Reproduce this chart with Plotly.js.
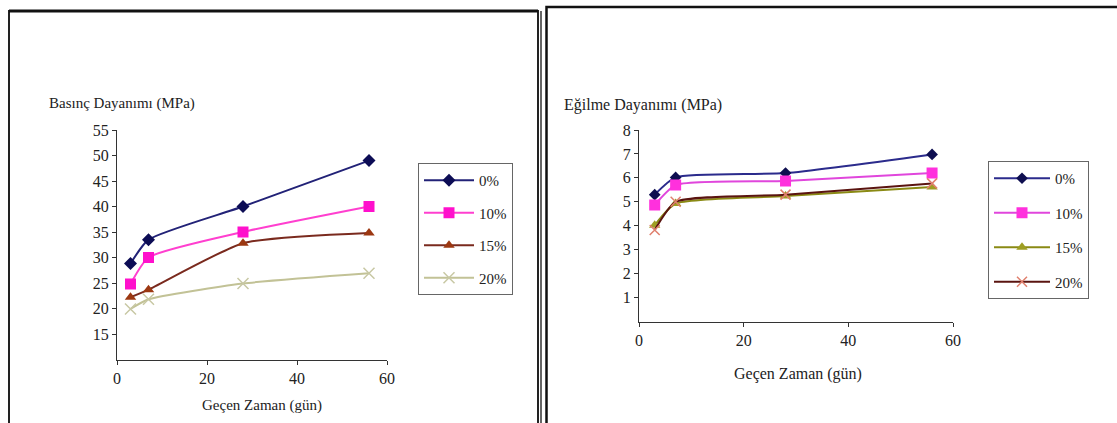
<!DOCTYPE html>
<html>
<head>
<meta charset="utf-8">
<script src="https://cdn.plot.ly/plotly-3.0.1.min.js"></script>
<style>
html,body{margin:0;padding:0;background:#fff;font-family:'Liberation Serif',serif;}
#chart{width:1117px;height:423px;}
</style>
</head>
<body>
<div id="chart"></div>
<script>
// ---- data ----
const days = [3, 7, 28, 56];
const seriesNames = ["0%", "10%", "15%", "20%"];
const compressive0 = [28.8, 33.5, 40.0, 49.0];
const compressive10 = [24.8, 30.0, 35.0, 40.0];
const compressive15 = [22.2, 23.7, 32.8, 34.8];
const compressive20 = [19.9, 21.8, 24.9, 26.9];
const flexural0 = [5.3, 6.02, 6.2, 6.98];
const flexural10 = [4.87, 5.7, 5.87, 6.2];
const flexural15 = [4.02, 4.93, 5.24, 5.62];
const flexural20 = [3.82, 5.0, 5.3, 5.77];
const leftYTicks = [15, 20, 25, 30, 35, 40, 45, 50, 55];
const rightYTicks = [1, 2, 3, 4, 5, 6, 7, 8];
const xTicks = [0, 20, 40, 60];
const leftYTitle = "Basınç Dayanımı (MPa)";
const rightYTitle = "Eğilme Dayanımı (MPa)";
const xTitle = "Geçen Zaman (gün)";

// ---- layout helpers ----
const W = 1117, H = 423;
const toPX = v => v / W;
const toPY = v => 1 - v / H;
const SERIF = "Liberation Serif";

const leftStyles = [
  {line: "#222277", marker: "#0c0c55", symbol: "diamond", size: 10},
  {line: "#ff3fcf", marker: "#ff10cc", symbol: "square", size: 11},
  {line: "#7a2a1e", marker: "#9c3812", symbol: "triangle-up", size: 10},
  {line: "#c2c296", marker: "#c8c8a4", symbol: "x-thin-open", size: 11}
];
const rightStyles = [
  {line: "#2b2b8c", marker: "#0e0e50", symbol: "diamond", size: 9},
  {line: "#e046dc", marker: "#ff30dd", symbol: "square", size: 11},
  {line: "#8a8a14", marker: "#9e9e22", symbol: "triangle-up", size: 10},
  {line: "#5a1410", marker: "#e0806e", symbol: "x-thin-open", size: 10}
];

function mk(y, i, st, xa, ya, leg, grp) {
  return {
    x: days, y: y, name: seriesNames[i], type: "scatter", mode: "lines+markers",
    xaxis: xa, yaxis: ya, legend: leg, legendgroup: grp + i,
    line: {color: st.line, width: 2, shape: "spline", smoothing: 0.55},
    marker: {color: st.marker, symbol: st.symbol, size: st.size,
             line: {color: st.marker, width: st.symbol === "x-thin-open" ? 1.5 : 0}}
  };
}
const leftData = [compressive0, compressive10, compressive15, compressive20];
const rightData = [flexural0, flexural10, flexural15, flexural20];
const traces = [];
leftData.forEach((y, i) => traces.push(mk(y, i, leftStyles[i], "x", "y", "legend", "L")));
rightData.forEach((y, i) => traces.push(mk(y, i, rightStyles[i], "x2", "y2", "legend2", "R")));

function axis(extra, size) {
  return Object.assign({
    showgrid: false, zeroline: false, showline: true, linecolor: "#333", linewidth: 1,
    ticks: "outside", ticklen: 4, tickcolor: "#333", tickwidth: 1,
    tickfont: {family: SERIF, size: size, color: "#222"}, fixedrange: true
  }, extra);
}

function legendCfg(x, y, gap, iw) {
  return {
    x: x, y: y, orientation: "v", xanchor: "left", yanchor: "top",
    bgcolor: "#ffffff", bordercolor: "#666", borderwidth: 1,
    font: {family: SERIF, size: 15, color: "#222"},
    traceorder: "grouped", tracegroupgap: gap, itemwidth: iw
  };
}

const layout = {
  width: W, height: H, margin: {l: 0, r: 0, t: 0, b: 0},
  paper_bgcolor: "#fff", plot_bgcolor: "#fff", showlegend: true,
  font: {family: SERIF, color: "#222"},
  xaxis: axis({domain: [toPX(117), toPX(387)], range: [0, 60], tickvals: xTicks, anchor: "y"}, 16),
  yaxis: axis({domain: [toPY(359.5), toPY(130)], range: [10, 55], tickvals: leftYTicks, anchor: "x"}, 16),
  xaxis2: axis({domain: [toPX(639), toPX(953)], range: [0, 60], tickvals: xTicks, anchor: "y2"}, 16),
  yaxis2: axis({domain: [toPY(321.5), toPY(130)], range: [0, 8], tickvals: rightYTicks, anchor: "x2"}, 16),
  legend: legendCfg(toPX(418), toPY(163), 10, 50),
  legend2: legendCfg(toPX(988), toPY(161), 12, 56),
  annotations: [
    {text: leftYTitle, xref: "paper", yref: "paper", x: toPX(47), y: toPY(103), xanchor: "left", yanchor: "middle",
     showarrow: false, font: {family: SERIF, size: 15}},
    {text: rightYTitle, xref: "paper", yref: "paper", x: toPX(562), y: toPY(105), xanchor: "left", yanchor: "middle",
     showarrow: false, font: {family: SERIF, size: 16}},
    {text: xTitle, xref: "paper", yref: "paper", x: toPX(262), y: toPY(405), xanchor: "center", yanchor: "middle",
     showarrow: false, font: {family: SERIF, size: 15}},
    {text: xTitle, xref: "paper", yref: "paper", x: toPX(798), y: toPY(374), xanchor: "center", yanchor: "middle",
     showarrow: false, font: {family: SERIF, size: 16}}
  ],
  shapes: [
    {type: "rect", xref: "paper", yref: "paper", x0: toPX(9), x1: toPX(538), y0: toPY(440), y1: toPY(11),
     line: {color: "#222", width: 2}},
    {type: "line", xref: "paper", yref: "paper", x0: toPX(9), x1: toPX(538), y0: toPY(11), y1: toPY(11),
     line: {color: "#111", width: 3}},
    {type: "line", xref: "paper", yref: "paper", x0: toPX(541), x1: toPX(541), y0: toPY(440), y1: toPY(11),
     line: {color: "#333", width: 1.5}},
    {type: "rect", xref: "paper", yref: "paper", x0: toPX(546.5), x1: toPX(1130), y0: toPY(440), y1: toPY(7),
     line: {color: "#111", width: 2.5}}
  ]
};

Plotly.newPlot("chart", traces, layout, {displayModeBar: false});
</script>
</body>
</html>
